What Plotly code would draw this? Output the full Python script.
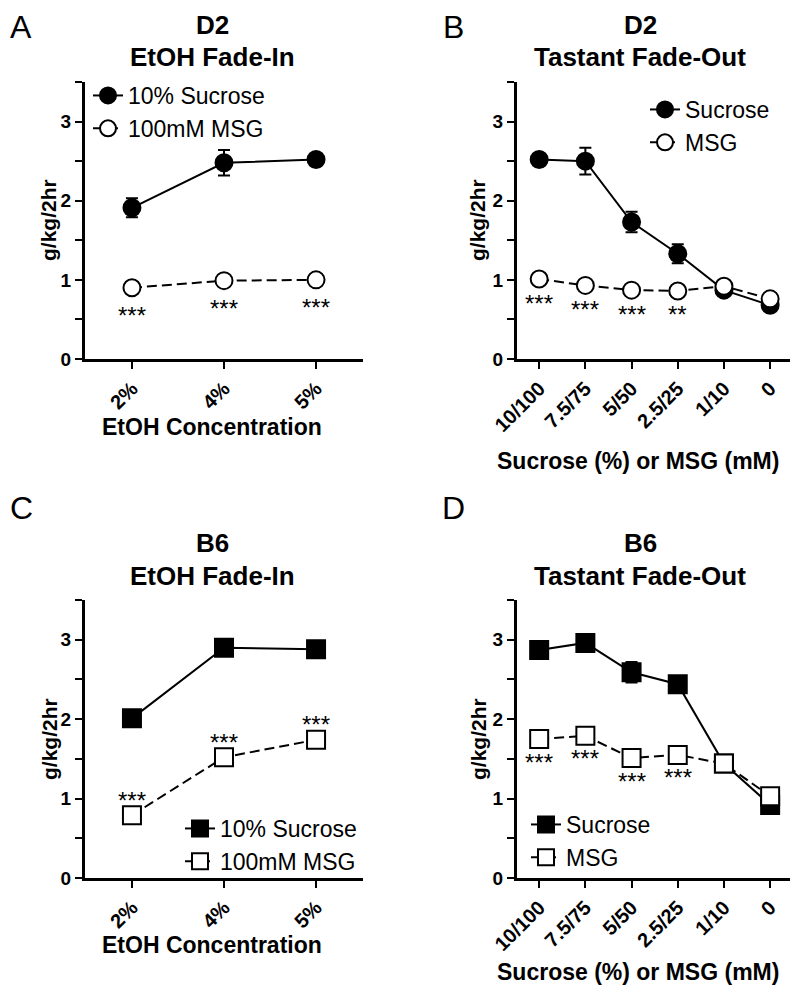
import plotly.graph_objects as go

# ---------------- data ----------------
etoh_cats = ["2%", "4%", "5%"]
tastant_cats = ["10/100", "7.5/75", "5/50", "2.5/25", "1/10", "0"]

d2_fadein_suc = [1.91, 2.48, 2.52]
d2_fadein_suc_err = [0.12, 0.16, 0.04]
d2_fadein_msg = [0.90, 0.99, 1.00]
d2_fadein_msg_err = [0.04, 0.04, 0.04]
d2_fadein_sig = ["***", "***", "***"]

d2_fadeout_suc = [2.52, 2.50, 1.73, 1.33, 0.87, 0.68]
d2_fadeout_suc_err = [0.05, 0.17, 0.13, 0.12, 0.04, 0.04]
d2_fadeout_msg = [1.01, 0.93, 0.87, 0.86, 0.92, 0.76]
d2_fadeout_msg_err = [0.04, 0.04, 0.04, 0.04, 0.04, 0.04]
d2_fadeout_sig = ["***", "***", "***", "**", "", ""]

b6_fadein_suc = [2.01, 2.90, 2.88]
b6_fadein_suc_err = [0.05, 0.05, 0.05]
b6_fadein_msg = [0.79, 1.52, 1.74]
b6_fadein_msg_err = [0.05, 0.05, 0.05]
b6_fadein_sig = ["***", "***", "***"]

b6_fadeout_suc = [2.87, 2.96, 2.59, 2.44, 1.44, 0.92]
b6_fadeout_suc_err = [0.05, 0.05, 0.13, 0.08, 0.04, 0.04]
b6_fadeout_msg = [1.75, 1.79, 1.51, 1.55, 1.44, 1.03]
b6_fadeout_msg_err = [0.05, 0.06, 0.05, 0.04, 0.04, 0.04]
b6_fadeout_sig = ["***", "***", "***", "***", "", ""]

y_tickvals = [0, 0.5, 1, 1.5, 2, 2.5, 3, 3.5]
y_ticktext = ["0", "", "1", "", "2", "", "3", ""]

# ---------------- figure ----------------
# page body has an 8px default margin, so the figure is drawn 8px in
OFF = 8
W, H = 800 - OFF, 991 - OFF
FONT = "Liberation Sans, Arial, sans-serif"

def px_x(p):
    return (p - OFF) / W

def px_y(p):
    return 1 - (p - OFF) / H

fig = go.Figure()

panels = [
    dict(ax="", cats=etoh_cats, suc=d2_fadein_suc, se=d2_fadein_suc_err, msg=d2_fadein_msg,
         me=d2_fadein_msg_err, sig=d2_fadein_sig, sym="circle",
         names=["10% Sucrose", "100mM MSG"], leg="legend", off=21,
         xdom=[85, 363], ydom=[82, 359], xr=[-0.51, 2.51]),
    dict(ax="2", cats=tastant_cats, suc=d2_fadeout_suc, se=d2_fadeout_suc_err, msg=d2_fadeout_msg,
         me=d2_fadeout_msg_err, sig=d2_fadeout_sig, sym="circle",
         names=["Sucrose", "MSG"], leg="legend2", off=17,
         xdom=[517, 790], ydom=[82, 359], xr=[-0.48, 5.43]),
    dict(ax="3", cats=etoh_cats, suc=b6_fadein_suc, se=b6_fadein_suc_err, msg=b6_fadein_msg,
         me=b6_fadein_msg_err, sig=b6_fadein_sig, sym="square",
         names=["10% Sucrose", "100mM MSG"], leg="legend3", off=-18,
         xdom=[85, 363], ydom=[600, 878], xr=[-0.51, 2.51]),
    dict(ax="4", cats=tastant_cats, suc=b6_fadeout_suc, se=b6_fadeout_suc_err, msg=b6_fadeout_msg,
         me=b6_fadeout_msg_err, sig=b6_fadeout_sig, sym="square",
         names=["Sucrose", "MSG"], leg="legend4", off=16,
         xdom=[517, 790], ydom=[600, 878], xr=[-0.48, 5.43]),
]

annotations = []
for p in panels:
    xa = "x" + p["ax"]
    ya = "y" + p["ax"]
    msize = 17 if p["sym"] == "circle" else 18
    fig.add_trace(go.Scatter(
        x=p["cats"], y=p["suc"], xaxis=xa, yaxis=ya, name=p["names"][0],
        mode="lines+markers", legend=p["leg"],
        line=dict(color="black", width=2),
        marker=dict(symbol=p["sym"], size=msize, color="black", line=dict(color="black", width=2)),
        error_y=dict(type="data", array=p["se"], color="black", thickness=2, width=6),
    ))
    fig.add_trace(go.Scatter(
        x=p["cats"], y=p["msg"], xaxis=xa, yaxis=ya, name=p["names"][1],
        mode="lines+markers", legend=p["leg"],
        line=dict(color="black", width=2, dash="10px,5px"),
        marker=dict(symbol=p["sym"], size=msize, color="white", line=dict(color="black", width=2)),
        error_y=dict(type="data", array=p["me"], color="black", thickness=2, width=6),
    ))
    for c, v, s in zip(p["cats"], p["msg"], p["sig"]):
        if s:
            annotations.append(dict(
                x=c, y=v, xref=xa, yref=ya, text=s, showarrow=False,
                yshift=-(p["off"] + 7) if p["off"] > 0 else (-p["off"] - 3),
                font=dict(family=FONT, size=24, color="black"),
            ))
    axkey = "xaxis" + p["ax"]
    aykey = "yaxis" + p["ax"]
    fig.update_layout(**{
        axkey: dict(
            domain=[px_x(p["xdom"][0]), px_x(p["xdom"][1])],
            anchor=ya, type="category", range=p["xr"],
            showline=True, linecolor="black", linewidth=3,
            ticks="outside", ticklen=7, tickwidth=2, tickcolor="black",
            tickangle=-45, showgrid=False, zeroline=False, automargin=False,
            tickfont=dict(family=FONT, size=20, color="black", weight="bold"),
            fixedrange=True,
        ),
        aykey: dict(
            domain=[px_y(p["ydom"][1]), px_y(p["ydom"][0])],
            anchor=xa, range=[0, 3.5],
            tickvals=y_tickvals, ticktext=y_ticktext,
            showline=True, linecolor="black", linewidth=3,
            ticks="outside", ticklen=7, tickwidth=2, tickcolor="black",
            showgrid=False, zeroline=False, automargin=False,
            tickfont=dict(family=FONT, size=19, color="black", weight="bold"),
            fixedrange=True,
        ),
    })

# legends
leg_common = dict(bgcolor="rgba(0,0,0,0)", font=dict(family=FONT, size=23, color="black"),
                  itemwidth=30, xanchor="left", yanchor="top", traceorder="normal")
fig.update_layout(
    legend=dict(x=px_x(88), y=px_y(74), **leg_common),
    legend2=dict(x=px_x(645), y=px_y(88), **leg_common),
    legend3=dict(x=px_x(180), y=px_y(807), **leg_common),
    legend4=dict(x=px_x(526), y=px_y(803), **leg_common),
)

# titles, letters, axis titles
title_font = dict(family=FONT, size=26, color="black", weight="bold")
axis_font = dict(family=FONT, size=23, color="black", weight="bold")
ytitle_font = dict(family=FONT, size=21, color="black", weight="bold")
letter_font = dict(family=FONT, size=32, color="black")

def paper_text(text, x, y, font, angle=0):
    annotations.append(dict(text=text, x=px_x(x), y=px_y(y), xref="paper", yref="paper",
                            showarrow=False, xanchor="center", yanchor="middle",
                            font=font, textangle=angle))

paper_text("A", 21, 27, letter_font)
paper_text("B", 453, 27, letter_font)
paper_text("C", 21, 508, letter_font)
paper_text("D", 453, 508, letter_font)

paper_text("D2", 213, 25, title_font)
paper_text("EtOH Fade-In", 213, 57, title_font)
paper_text("D2", 640, 25, title_font)
paper_text("Tastant Fade-Out", 640, 57, title_font)
paper_text("B6", 213, 543, title_font)
paper_text("EtOH Fade-In", 213, 576, title_font)
paper_text("B6", 640, 543, title_font)
paper_text("Tastant Fade-Out", 640, 576, title_font)

paper_text("EtOH Concentration", 212, 427, axis_font)
paper_text("Sucrose (%) or MSG (mM)", 638, 461, axis_font)
paper_text("EtOH Concentration", 212, 945, axis_font)
paper_text("Sucrose (%) or MSG (mM)", 638, 972, axis_font)

paper_text("g/kg/2hr", 49, 220, ytitle_font, -90)
paper_text("g/kg/2hr", 478, 220, ytitle_font, -90)
paper_text("g/kg/2hr", 49, 739, ytitle_font, -90)
paper_text("g/kg/2hr", 478, 739, ytitle_font, -90)

fig.update_layout(
    width=W, height=H,
    margin=dict(l=0, r=0, t=0, b=0, autoexpand=False),
    paper_bgcolor="white", plot_bgcolor="white",
    annotations=annotations,
    font=dict(family=FONT, color="black"),
)

fig.write_html("out.html")
